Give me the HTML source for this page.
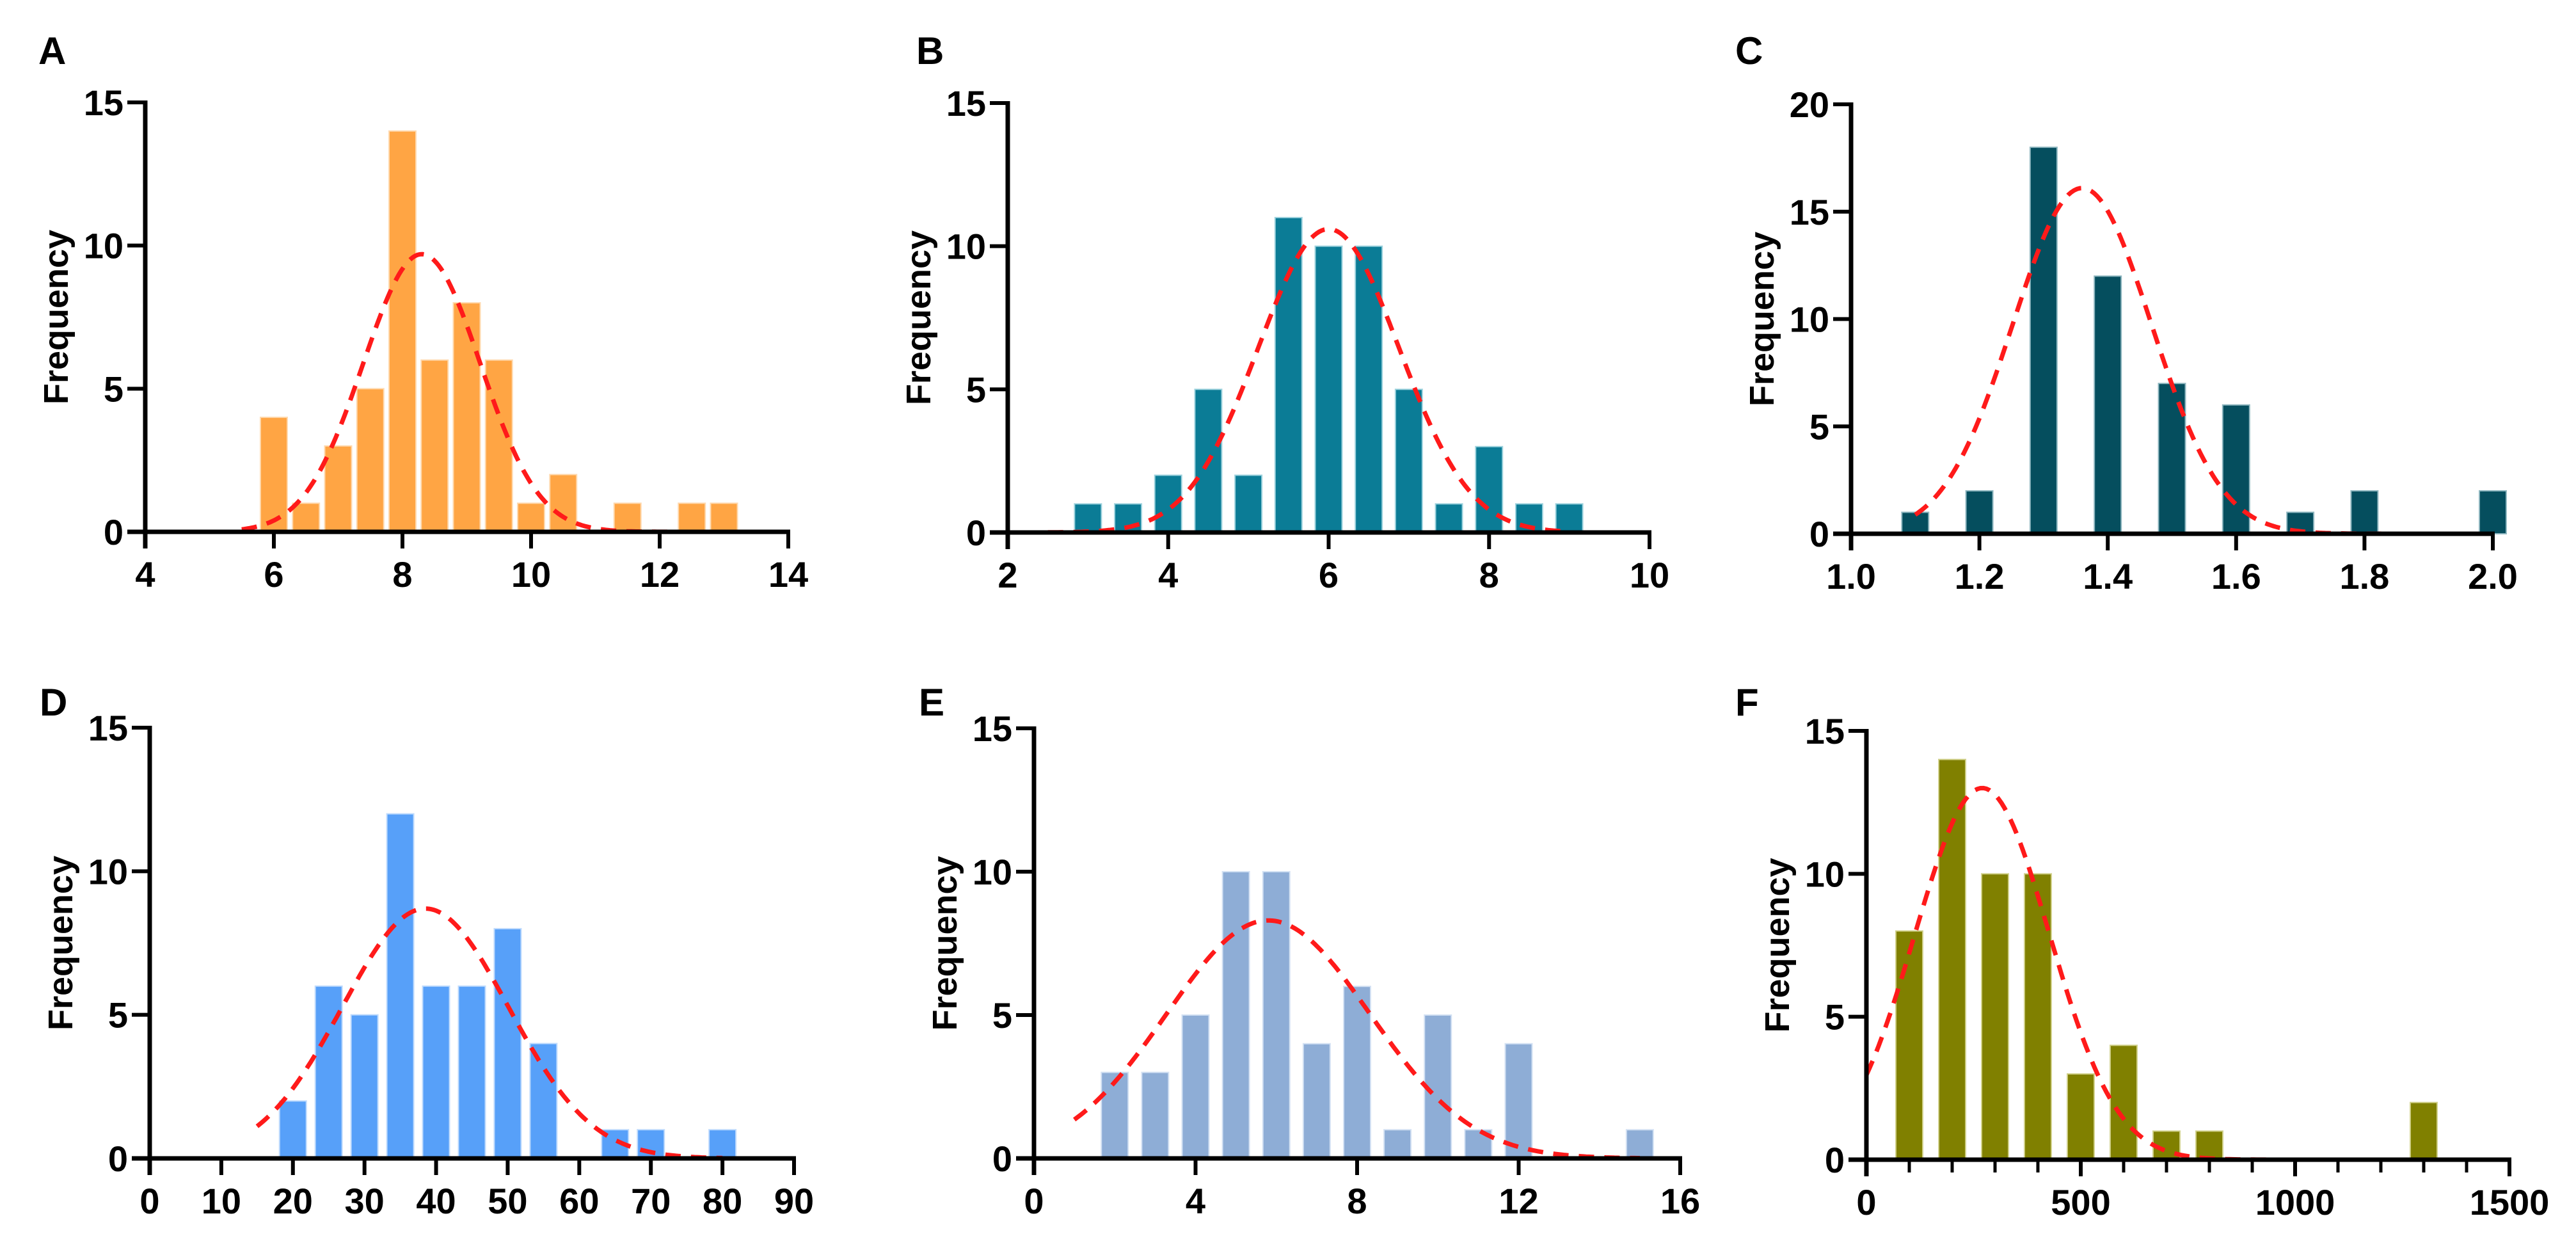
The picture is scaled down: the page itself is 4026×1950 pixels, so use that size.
<!DOCTYPE html>
<html><head><meta charset="utf-8">
<style>
html,body{margin:0;padding:0;background:#fff;}
svg{display:block;font-family:"Liberation Sans",Arial,sans-serif;font-weight:bold;}
</style></head>
<body>
<svg id="fig" width="4026" height="1950" viewBox="0 0 4026 1950" xmlns="http://www.w3.org/2000/svg"></svg>
<script>
// ---- Data ----
const centersA=[6,6.5,7,7.5,8,8.5,9,9.5,10,10.5,11,11.5,12,12.5,13];
const countsA=[4,1,3,5,14,6,8,6,1,2,0,1,0,1,1];
const fitA=[8.3,0.91,9.7]; // mean, sd, peak
const ticksA=[4,6,8,10,12,14];

const centersB=[3,3.5,4,4.5,5,5.5,6,6.5,7,7.5,8,8.5,9];
const countsB=[1,1,2,5,2,11,10,10,5,1,3,1,1];
const fitB=[6.0,0.88,10.6];
const ticksB=[2,4,6,8,10];

const centersC=[1.1,1.2,1.3,1.4,1.5,1.6,1.7,1.8,1.9,2.0];
const countsC=[1,2,18,12,7,6,1,2,0,2];
const fitC=[1.36,0.108,16.1];
const ticksC=["1.0","1.2","1.4","1.6","1.8","2.0"];

const centersD=[20,25,30,35,40,45,50,55,60,65,70,75,80];
const countsD=[2,6,5,12,6,6,8,4,0,1,1,0,1];
const fitD=[38.5,11.6,8.7];
const ticksD=[0,10,20,30,40,50,60,70,80,90];

const centersE=[2,3,4,5,6,7,8,9,10,11,12,13,14,15];
const countsE=[3,3,5,10,10,4,6,1,5,1,4,0,0,1];
const fitE=[5.8,2.52,8.3];
const ticksE=[0,4,8,12,16];

const centersF=[100,200,300,400,500,600,700,800,900,1000,1100,1200,1300];
const countsF=[8,14,10,10,3,4,1,1,0,0,0,0,2];
const fitF=[270,157,13.0];
const ticksF=[0,500,1000,1500];

// ---- Layout ----
const panels=[
 {id:'a',letter:'A',lx:60,ly:100,ax:227,x1:1232,y0:831,yt:160,xmin:4,xmax:14,ymax:15,yt5:5,c:centersA,v:countsA,fit:fitA,fr:[5.5,12.8],ticks:ticksA,minor:[],color:'#FFA544',edge:'#FFD9AE'},
 {id:'b',letter:'B',lx:1432,ly:100,ax:1575,x1:2578,y0:832,yt:161,xmin:2,xmax:10,ymax:15,yt5:5,c:centersB,v:countsB,fit:fitB,fr:[2.5,9],ticks:ticksB,minor:[],color:'#0B7C96',edge:'#9ED3DE'},
 {id:'c',letter:'C',lx:2712,ly:100,ax:2893,x1:3896,y0:834,yt:163,xmin:1,xmax:2,ymax:20,yt5:5,c:centersC,v:countsC,fit:fitC,fr:[1.1,2.0],ticks:ticksC,minor:[],color:'#054E5E',edge:'#8FB7C0'},
 {id:'d',letter:'D',lx:62,ly:1118,ax:234,x1:1241,y0:1810,yt:1137,xmin:0,xmax:90,ymax:15,yt5:5,c:centersD,v:countsD,fit:fitD,fr:[15,80],ticks:ticksD,minor:[],color:'#57A0F9',edge:'#BFDBFD'},
 {id:'e',letter:'E',lx:1436,ly:1118,ax:1616,x1:2626,y0:1810,yt:1138,xmin:0,xmax:16,ymax:15,yt5:5,c:centersE,v:countsE,fit:fitE,fr:[1,15],ticks:ticksE,minor:[],color:'#8EADD6',edge:'#D3E1F3'},
 {id:'f',letter:'F',lx:2712,ly:1118,ax:2917,x1:3922,y0:1812,yt:1142,xmin:0,xmax:1500,ymax:15,yt5:5,c:centersF,v:countsF,fit:fitF,fr:[0,1400],ticks:ticksF,minor:[100,200,300,400,600,700,800,900,1100,1200,1300,1400],color:'#808000',edge:'#D0D08A'}
];
const NS='http://www.w3.org/2000/svg';
const svg=document.getElementById('fig');
function mk(tag,attrs,parent){const e=document.createElementNS(NS,tag);for(const k in attrs)e.setAttribute(k,attrs[k]);(parent||svg).appendChild(e);return e;}

panels.forEach(p=>{
  const g=mk('g',{});
  
  
  const xs=v=>p.ax+(v-p.xmin)/(p.xmax-p.xmin)*(p.x1-p.ax);
  const ys=v=>p.y0-v/p.ymax*(p.y0-p.yt);
  const lt=mk('text',{x:p.lx,y:p.ly,'font-size':60,fill:'#000'},g);
  lt.textContent=p.letter;
  
  
  p.c.forEach((cv,i)=>{
    if(p.v[i]<=0)return;
    const r=mk('rect',{x:xs(cv)-21,y:ys(p.v[i]),width:42,height:p.y0-ys(p.v[i]),fill:p.color,stroke:p.edge,'stroke-width':2},g);
    
    
  });
  let d='';
  const [m,s,pk]=p.fit;
  for(let k=0;k<=200;k++){
    const x=p.fr[0]+(p.fr[1]-p.fr[0])*k/200;
    const y=pk*Math.exp(-((x-m)*(x-m))/(2*s*s));
    d+=(k?'L':'M')+xs(x).toFixed(1)+' '+ys(y).toFixed(1);
  }
  const cur=mk('path',{d:d,fill:'none',stroke:'#FF1A1A','stroke-width':7,'stroke-dasharray':'24 16'},g);
  
  
  const ya=mk('line',{x1:p.ax,y1:p.yt-3,x2:p.ax,y2:p.y0+26,stroke:'#000','stroke-width':7},g);
  
  
  const xa=mk('line',{x1:p.ax-28,y1:p.y0,x2:p.x1+3,y2:p.y0,stroke:'#000','stroke-width':7},g);
  
  
  for(let v=0;v<=p.ymax;v+=p.yt5){
    mk('line',{x1:p.ax-28,y1:ys(v),x2:p.ax,y2:ys(v),stroke:'#000','stroke-width':6},g);
    const t=mk('text',{x:p.ax-34,y:ys(v)+20,'font-size':56,'text-anchor':'end',fill:'#000'},g);
    t.textContent=v;
    
    
  }
  p.ticks.forEach(tv=>{
    const v=parseFloat(tv);
    mk('line',{x1:xs(v),y1:p.y0,x2:xs(v),y2:p.y0+26,stroke:'#000','stroke-width':6},g);
    const t=mk('text',{x:xs(v),y:p.y0+86,'font-size':56,'text-anchor':'middle',fill:'#000'},g);
    t.textContent=tv;
    
    
  });
  p.minor.forEach(v=>{
    mk('line',{x1:xs(v),y1:p.y0,x2:xs(v),y2:p.y0+20,stroke:'#000','stroke-width':5},g);
  });
  const cy=(p.y0+p.yt)/2, cx=p.ax-140;
  const yt=mk('text',{x:cx,y:cy,'font-size':54,'text-anchor':'middle',fill:'#000',transform:`rotate(-90 ${cx} ${cy}) translate(0 19)`},g);
  yt.textContent='Frequency';
  
  
});
</script>
</body></html>
